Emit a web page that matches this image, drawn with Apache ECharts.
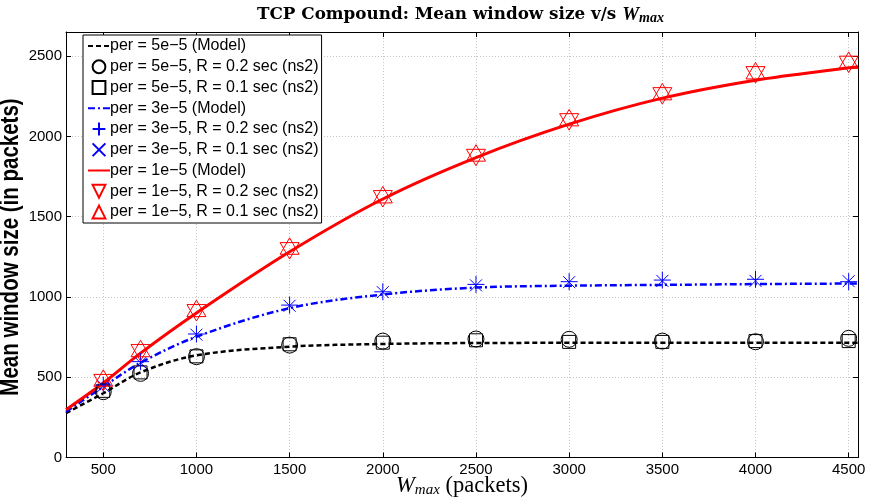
<!DOCTYPE html>
<html>
<head>
<meta charset="utf-8">
<script src="https://cdn.jsdelivr.net/npm/echarts@6/dist/echarts.min.js"></script>
<style>html,body{margin:0;padding:0;background:#fff;}#c{width:870px;height:499px;}</style>
</head>
<body>
<div id="c"></div>
<script>
// ---- data ----
const modelX = [300, 500, 700, 1000, 1500, 2000, 2500, 3000, 3500, 4000, 4500, 4550];
const model5e5 = [276, 400, 530, 636, 690, 707, 713, 714, 714, 714, 714, 714];
const model3e5 = [285, 441, 590, 752, 930, 1015, 1058, 1070, 1075, 1080, 1083, 1083];
const model1e5 = [298, 464, 650, 900, 1281, 1610, 1868, 2076, 2238, 2350, 2427, 2434];

const simX = [500, 700, 1000, 1500, 2000, 2500, 3000, 3500, 4000, 4500];
const sim5e5_R02 = [410, 524, 628, 700, 725, 738, 736, 725, 721, 742];
const sim5e5_R01 = [415, 530, 630, 705, 715, 730, 720, 720, 725, 725];
const sim3e5_R02 = [451, 597, 769, 949, 1032, 1078, 1095, 1105, 1110, 1095];
const sim3e5_R01 = [445, 590, 765, 945, 1030, 1072, 1092, 1100, 1100, 1098];
const sim1e5_R02 = [483, 669, 918, 1304, 1628, 1885, 2107, 2269, 2400, 2465];
const sim1e5_R01 = [478, 662, 912, 1300, 1620, 1880, 2100, 2262, 2392, 2458];

const names = [
  'per = 5e\u22125 (Model)',
  'per = 5e\u22125, R = 0.2 sec (ns2)',
  'per = 5e\u22125, R = 0.1 sec (ns2)',
  'per = 3e\u22125 (Model)',
  'per = 3e\u22125, R = 0.2 sec (ns2)',
  'per = 3e\u22125, R = 0.1 sec (ns2)',
  'per = 1e\u22125 (Model)',
  'per = 1e\u22125, R = 0.2 sec (ns2)',
  'per = 1e\u22125, R = 0.1 sec (ns2)'
];
const xTicks = [500, 1000, 1500, 2000, 2500, 3000, 3500, 4000, 4500];
const yTitle = 'Mean window size (in packets)';

// ---- build ----
const zip = (xs, ys) => xs.map((x, i) => [x, ys[i]]);
const PLUS = 'path://M5,0 L5,10 M0,5 L10,5';
const CROSS = 'path://M0,0 L10,10 M10,0 L0,10';
const TRI_DOWN = 'path://M0,0 L10,0 L5,8.66 Z';
const TRI_UP = 'path://M5,0 L10,8.66 L0,8.66 Z';

function lineSeries(name, ys, color, type, width) {
  return { name, type: 'line', data: zip(modelX, ys), smooth: 0.35, symbol: 'none',
    lineStyle: { color, width, type }, itemStyle: { color }, z: 2, animation: false };
}
function markSeries(name, ys, color, symbol, size, offset) {
  return { name, type: 'line', data: zip(simX, ys), symbol, symbolSize: size, symbolKeepAspect: true,
    symbolOffset: offset || [0, 0],
    showSymbol: true, lineStyle: { width: 0, opacity: 0 },
    itemStyle: { color: 'rgba(0,0,0,0)', borderColor: color, borderWidth: 1 }, z: 3, animation: false };
}

const sans = 'Liberation Sans, Arial, Helvetica, sans-serif';
const serif = 'DejaVu Serif, Liberation Serif, serif';
const serif2 = 'Liberation Serif, DejaVu Serif, serif';

const chart = echarts.init(document.getElementById('c'), null, { renderer: 'canvas' });
const gridLine = { show: true, lineStyle: { color: '#c4c4c4', width: 1, type: [1, 2] } };
const legendData = names.map((n, i) => (i % 3 === 0) ? { name: n, itemStyle: { opacity: 0 } } : { name: n });
chart.setOption({
  animation: false,
  backgroundColor: '#fff',
  title: {
    left: 252, top: 0,
    text: '{b|TCP Compound: Mean window size v/s }{i|W}{s|max}',
    textStyle: { rich: {
      b: { fontFamily: serif, fontWeight: 'bold', fontSize: 16.8, color: '#000' },
      i: { fontFamily: serif2, fontStyle: 'italic', fontSize: 19, color: '#000' },
      s: { fontFamily: serif2, fontStyle: 'italic', fontSize: 14, color: '#000', padding: [6, 0, 0, 0] }
    } }
  },
  graphic: [{
    type: 'text', x: 11, y: 247, rotation: Math.PI / 2, scaleY: 1.3, silent: true,
    style: { text: yTitle, font: 'bold 20.5px ' + sans, fill: '#000', align: 'center', verticalAlign: 'middle' }
  }],
  grid: { left: 66, right: 12, top: 32, bottom: 41.5, containLabel: false, outerBoundsMode: 'none' },
  legend: {
    orient: 'vertical', left: 83, top: 35,
    backgroundColor: '#fff', borderColor: '#000', borderWidth: 1,
    padding: [3, 3, 3, 4], itemGap: 4.75, itemWidth: 22, itemHeight: 16,
    textStyle: { fontFamily: sans, fontSize: 16, color: '#000', padding: [0, 0, 0, -5] },
    data: legendData
  },
  xAxis: [{
    type: 'value', min: 300, max: 4550, interval: 500,
    position: 'bottom',
    axisLine: { show: true, onZero: false, lineStyle: { color: '#000', width: 1 } },
    axisTick: { show: true, inside: true, length: 5, customValues: xTicks, lineStyle: { color: '#000' } },
    axisLabel: { fontFamily: sans, fontSize: 15, color: '#000', margin: 5, customValues: xTicks,
      formatter: v => String(v) },
    splitLine: gridLine,
    name: '{i|W}{s|max}{n| (packets)}', nameLocation: 'middle', nameGap: 17, nameMoveOverlap: false,
    nameTextStyle: { rich: {
      i: { fontFamily: serif2, fontStyle: 'italic', fontSize: 22.5, color: '#000' },
      s: { fontFamily: serif2, fontStyle: 'italic', fontSize: 15, color: '#000', padding: [8, 0, 0, 0] },
      n: { fontFamily: serif2, fontSize: 22.5, color: '#000' }
    } }
  }, {
    type: 'value', min: 300, max: 4550, interval: 500, position: 'top',
    axisLine: { show: true, onZero: false, lineStyle: { color: '#000', width: 1 } },
    axisTick: { show: true, inside: true, length: 5, customValues: xTicks, lineStyle: { color: '#000' } },
    axisLabel: { show: false }, splitLine: { show: false }
  }],
  yAxis: [{
    type: 'value', min: 0, max: 2650, interval: 500,
    axisLine: { show: true, lineStyle: { color: '#000', width: 1 } },
    axisTick: { show: true, inside: true, length: 5, lineStyle: { color: '#000' } },
    axisLabel: { fontFamily: sans, fontSize: 15, color: '#000', margin: 4, showMaxLabel: false,
      formatter: v => String(v) },
    splitLine: gridLine
  }, {
    type: 'value', min: 0, max: 2650, interval: 500, position: 'right',
    axisLine: { show: true, lineStyle: { color: '#000', width: 1 } },
    axisTick: { show: true, inside: true, length: 5, lineStyle: { color: '#000' } },
    axisLabel: { show: false }, splitLine: { show: false }
  }],
  series: [
    lineSeries(names[0], model5e5, '#000', [5, 3], 2.5),
    markSeries(names[1], sim5e5_R02, '#000', 'circle', 16),
    markSeries(names[2], sim5e5_R01, '#000', 'rect', 13),
    lineSeries(names[3], model3e5, '#0000ff', [7, 3, 2, 3], 2.5),
    markSeries(names[4], sim3e5_R02, '#0000ff', PLUS, 17),
    markSeries(names[5], sim3e5_R01, '#0000ff', CROSS, 12),
    lineSeries(names[6], model1e5, '#ff0000', 'solid', 3),
    markSeries(names[7], sim1e5_R02, '#ff0000', TRI_DOWN, 19, [0, 2.7]),
    markSeries(names[8], sim1e5_R01, '#ff0000', TRI_UP, 19, [0, -2.7])
  ]
});
</script>
</body>
</html>
